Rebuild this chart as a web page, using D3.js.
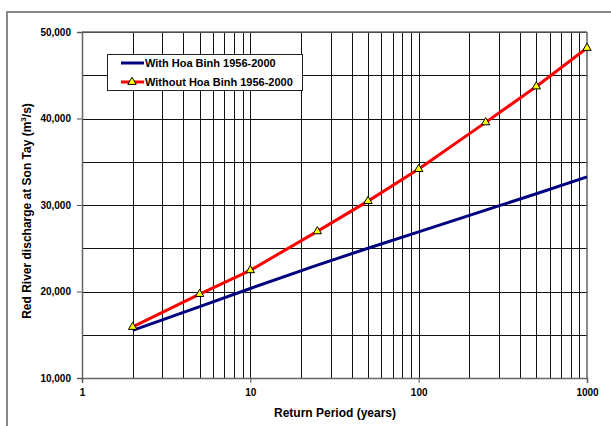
<!DOCTYPE html>
<html><head><meta charset="utf-8">
<script src="https://cdn.jsdelivr.net/npm/d3@7"></script>
<style>body{margin:0;background:#fff}svg{display:block;font-family:Arial,"Liberation Sans",sans-serif}</style>
</head><body><svg id="c" width="611" height="426"></svg>
<script>
const returnPeriods = [2, 5, 10, 25, 50, 100, 250, 500, 1000];
const withHoaBinh = [15500, 18250, 20350, 23050, 25000, 26900, 29400, 31300, 33250];
const withoutHoaBinh = [15900, 19700, 22450, 26950, 30450, 34150, 39550, 43700, 48150];
const yTicks = [10000, 20000, 30000, 40000, 50000];
const yGrid = [15000, 20000, 25000, 30000, 35000, 40000, 45000, 50000];
const xTicks = [1, 10, 100, 1000];
const seriesNames = ["With Hoa Binh 1956-2000", "Without Hoa Binh 1956-2000"];

const svg = d3.select("#c");
const L = 82, R = 587, T = 32, B = 378;
const x = d3.scaleLog().domain([1, 1000]).range([L, R]);
const y = d3.scaleLinear().domain([10000, 50000]).range([B, T]);

// outer frame
svg.append("rect").attr("x", 7).attr("y", 12).attr("width", 610).attr("height", 420)
  .attr("fill", "none").attr("stroke", "#888").attr("stroke-width", 2);

// grid
const minor = [];
for (let d = 1; d < 1000; d *= 10) for (let k = 2; k <= 9; k++) minor.push(d * k);
svg.append("g").selectAll("line").data(minor.concat([10, 100])).join("line")
  .attr("x1", d => Math.round(x(d)) + 0.5).attr("x2", d => Math.round(x(d)) + 0.5)
  .attr("y1", T).attr("y2", B).attr("stroke", "#111").attr("stroke-width", 1);
svg.append("g").selectAll("line").data(yGrid).join("line")
  .attr("x1", L).attr("x2", R)
  .attr("y1", d => Math.round(y(d)) + 0.5).attr("y2", d => Math.round(y(d)) + 0.5)
  .attr("stroke", "#111").attr("stroke-width", 1);

// axes
const yAxis = d3.axisLeft(y).tickValues(yTicks).tickFormat(d3.format(",")).tickSize(5).tickPadding(6);
const gy = svg.append("g").attr("transform", `translate(${L},0)`).call(yAxis);
const xAxis = d3.axisBottom(x).tickValues(xTicks).tickFormat(d3.format("d")).tickSize(5).tickPadding(6);
const gx = svg.append("g").attr("transform", `translate(0,${B})`).call(xAxis);
[gy, gx].forEach(g => {
  g.select(".domain").attr("stroke", "#666").attr("stroke-width", 1.5);
  g.selectAll(".tick line").attr("stroke", "#555");
  g.selectAll("text").attr("font-size", 10).attr("font-weight", "bold").attr("fill", "#000")
    .attr("font-family", "Arial, 'Liberation Sans', sans-serif");
});
// right and top borders of plot area
svg.append("line").attr("x1", R).attr("x2", R).attr("y1", T).attr("y2", B).attr("stroke", "#666").attr("stroke-width", 1.5);
svg.append("line").attr("x1", L).attr("x2", R).attr("y1", T).attr("y2", T).attr("stroke", "#666").attr("stroke-width", 1.5);

// lines
const line = d3.line().x((d, i) => x(returnPeriods[i])).y(d => y(d));
svg.append("path").datum(withHoaBinh).attr("d", line).attr("fill", "none")
  .attr("stroke", "#000080").attr("stroke-width", 3).attr("stroke-linejoin", "round");
svg.append("path").datum(withoutHoaBinh).attr("d", line).attr("fill", "none")
  .attr("stroke", "#ff0000").attr("stroke-width", 3).attr("stroke-linejoin", "round");
const tri = d3.symbol().type(d3.symbolTriangle).size(30);
svg.append("g").selectAll("path").data(withoutHoaBinh).join("path")
  .attr("d", tri).attr("transform", (d, i) => `translate(${x(returnPeriods[i])},${y(d)})`)
  .attr("fill", "#ffff00").attr("stroke", "#000").attr("stroke-width", 1);

// legend
const lg = svg.append("g");
lg.append("rect").attr("x", 107.5).attr("y", 54.5).attr("width", 195).attr("height", 36)
  .attr("fill", "#fff").attr("stroke", "#222").attr("stroke-width", 1);
const colors = ["#000080", "#ff0000"];
seriesNames.forEach((n, i) => {
  const yy = 63 + i * 19;
  lg.append("line").attr("x1", 121).attr("x2", 144).attr("y1", yy).attr("y2", yy)
    .attr("stroke", colors[i]).attr("stroke-width", 3);
  if (i === 1) lg.append("path").attr("d", tri).attr("transform", `translate(132,${yy})`)
    .attr("fill", "#ffff00").attr("stroke", "#000");
  lg.append("text").attr("x", 145).attr("y", yy + 4).attr("font-size", 11).attr("font-weight", "bold").text(n);
});

// axis titles
svg.append("text").attr("x", 335).attr("y", 417).attr("text-anchor", "middle")
  .attr("font-size", 12).attr("font-weight", "bold").text("Return Period (years)");
const yt = svg.append("text").attr("transform", "translate(31,211) rotate(-90)").attr("text-anchor", "middle")
  .attr("font-size", 12).attr("font-weight", "bold");
yt.append("tspan").text("Red River discharge at Son Tay (m");
yt.append("tspan").attr("dy", -5).attr("font-size", 8).text("3");
yt.append("tspan").attr("dy", 5).text("/s)");
</script></body></html>
